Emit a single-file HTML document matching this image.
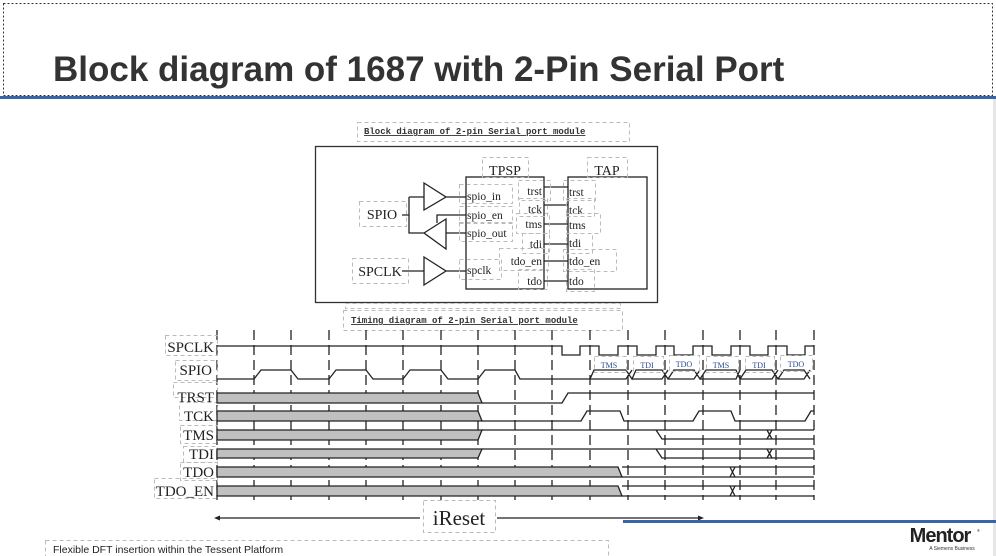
<!DOCTYPE html>
<html><head><meta charset="utf-8"><style>
html,body{margin:0;padding:0;background:#fff;}
body{width:996px;height:556px;overflow:hidden;position:relative;}
svg{position:absolute;left:0;top:0;}
.t{font-family:"Liberation Serif",serif;fill:#222;}
.m{font-family:"Liberation Mono",monospace;font-weight:bold;font-size:9px;fill:#333;text-decoration:underline;}
.d{fill:none;stroke:#bbb;stroke-dasharray:4,3;stroke-width:1;}
.l{fill:none;stroke:#222;stroke-width:1.3;}
</style></head><body>
<svg width="996" height="556" viewBox="0 0 996 556">
<rect x="3.5" y="3.5" width="989" height="92" fill="none" stroke="#333" stroke-dasharray="2,2"/>
<rect x="0" y="96" width="996" height="3" fill="#3566a8"/>
<rect x="993" y="99" width="3" height="457" fill="#e6e6e6"/>
<text x="53" y="81" font-family="Liberation Sans,sans-serif" font-weight="bold" font-size="35" fill="#333">Block diagram of 1687 with 2-Pin Serial Port</text>

<!-- block diagram -->
<rect class="d" x="357.5" y="122.5" width="272" height="19"/>
<text class="m" x="364" y="134">Block diagram of 2-pin Serial port module</text>
<rect x="315.5" y="146.5" width="342" height="156" fill="none" stroke="#333" stroke-width="1.3"/>
<rect class="d" x="345.5" y="303.5" width="275" height="5"/>
<rect x="466" y="177" width="78" height="112" fill="none" stroke="#222" stroke-width="1.3"/>
<rect x="568" y="177" width="79" height="112" fill="none" stroke="#222" stroke-width="1.3"/>
<rect class="d" x="482.5" y="157.5" width="46" height="20"/>
<rect class="d" x="587.5" y="157.5" width="40" height="20"/>
<text class="t" x="505" y="175" font-size="14" text-anchor="middle">TPSP</text>
<text class="t" x="607" y="175" font-size="14" text-anchor="middle">TAP</text>
<path class="l" d="M424,183 L446,197 L424,210 Z M446,197 H466 M402,215 H409 M409,197 V233 H424 M409,197 H424 M424,233 L446,219 L446,249 Z M446,233 H466 M437,223 V215 H466 M402,271 H424 M424,257 L446,271 L424,285 Z M446,271 H466"/>
<path class="l" d="M544,187 H568 M544,205 H568 M544,224 H568 M544,244 H568 M544,261 H568 M544,281 H568"/>
<rect class="d" x="359.5" y="201.5" width="47" height="25"/>
<rect class="d" x="352.5" y="258.5" width="56" height="25"/>
<text class="t" x="382" y="219" font-size="14" text-anchor="middle">SPIO</text>
<text class="t" x="380" y="276" font-size="14" text-anchor="middle">SPCLK</text>
<g class="t" font-size="11.5">
<text x="467" y="200">spio_in</text><text x="467" y="219">spio_en</text><text x="467" y="237">spio_out</text><text x="467" y="274">spclk</text>
<g text-anchor="end"><text x="542" y="195">trst</text><text x="542" y="213">tck</text><text x="542" y="228">tms</text><text x="542" y="248">tdi</text><text x="542" y="265">tdo_en</text><text x="542" y="285">tdo</text></g>
<text x="569" y="196">trst</text><text x="569" y="214">tck</text><text x="569" y="229">tms</text><text x="569" y="247">tdi</text><text x="569" y="265">tdo_en</text><text x="569" y="285">tdo</text>
</g>
<g class="d">
<rect x="459.5" y="184.5" width="53" height="19"/><rect x="459.5" y="206.5" width="53" height="17"/><rect x="459.5" y="222.5" width="53" height="19"/><rect x="459.5" y="259.5" width="42" height="20"/>
<rect x="518.5" y="180.5" width="32" height="20"/><rect x="519.5" y="198.5" width="28" height="18"/><rect x="516.5" y="213.5" width="33" height="20"/><rect x="522.5" y="233.5" width="27" height="20"/><rect x="499.5" y="248.5" width="49" height="22"/><rect x="518.5" y="269.5" width="29" height="20"/>
<rect x="563.5" y="180.5" width="32" height="20"/><rect x="566.5" y="198.5" width="28" height="18"/><rect x="566.5" y="213.5" width="34" height="20"/><rect x="566.5" y="233.5" width="26" height="20"/><rect x="563.5" y="249.5" width="53" height="22"/><rect x="566.5" y="269.5" width="28" height="22"/>
</g>

<!-- timing -->
<rect class="d" x="343.5" y="310.5" width="279" height="20"/>
<text class="m" x="351" y="323">Timing diagram of 2-pin Serial port module</text>
<g stroke="#222" stroke-width="1.3" stroke-dasharray="10,5">
<path d="M217,330V500M254,330V500M291,330V500M329,330V500M366,330V500M403,330V500M441,330V500M478,330V500M515,330V500M552,330V500M590,330V500M628,330V500M665,330V500M703,330V500M740,330V500M776,330V500M814,330V500"/>
</g>
<g class="d"><rect x="165.5" y="335.5" width="52" height="20"/><rect x="175.5" y="360.5" width="42" height="20"/><rect x="173.5" y="382.5" width="44" height="15"/><rect x="179.5" y="402.5" width="38" height="18"/><rect x="180.5" y="425.5" width="37" height="18"/><rect x="183.5" y="446.5" width="34" height="16"/><rect x="180.5" y="462.5" width="37" height="18"/><rect x="154.5" y="478.5" width="63" height="20"/></g>
<g class="t" font-size="15" text-anchor="end">
<text x="214" y="352">SPCLK</text><text x="212" y="375">SPIO</text><text x="214" y="402">TRST</text><text x="214" y="421">TCK</text><text x="214" y="440">TMS</text><text x="214" y="459">TDI</text><text x="214" y="477">TDO</text><text x="214" y="496">TDO_EN</text>
</g>
<g fill="#c0c0c0" stroke="#222" stroke-width="1.3">
<path d="M217,393 H478 L482,403 H217 Z"/>
<path d="M217,411 H478 L482,421 H217 Z"/>
<path d="M217,430 H482 L478,440 H217 Z"/>
<path d="M217,449 H482 L478,458 H217 Z"/>
<path d="M217,467 H618 L622,477 H217 Z"/>
<path d="M217,486 H618 L622,496 H217 Z"/>
</g>
<g class="l">
<path d="M217,346 H562 V355 H580 V346 H599 V355 H618 V346 H637 V355 H656 V346 H674 V355 H693 V346 H712 V355 H731 V346 H750 V355 H768 V346 H787 V355 H805 V346 H814"/>
<path d="M217,379 H254 L261,370 H291 L298,379 H329 L336,370 H366 L373,379 H403 L410,370 H441 L448,379 H478 L485,370 H515 L520,379 H590"/>
<path d="M590,379 L594,370 H626 L632,379 L636,370 H662 L668,379 L674,370 H694 L700,379 L706,370 H736 L740,379 L746,370 H772 L778,379 L784,370 H804 L810,379 M590,379 H626 L632,370 M632,379 L636,379 H662 L668,370 M668,379 L674,379 H694 L700,370 M700,379 L706,379 H736 L740,370 M740,379 L746,379 H772 L778,370 M778,379 L784,379 H804 L810,370"/>
<path d="M482,403 H562 L568,393 H814"/>
<path d="M482,421 H581 L587,411 H620 L624,421 H693 L699,411 H731 L735,421 H805 L811,411 H814"/>
<path d="M482,430 H814 M656,430 L662,439 H814"/>
<path d="M482,449 H814 M656,449 L662,458 H814"/>
<path d="M622,467 H814 M622,477 H814 M730,467 L735,477 M735,467 L730,477"/>
<path d="M622,486 H814 M622,496 H814 M730,486 L735,496 M735,486 L730,496"/>
<path d="M767,430 L772,439 M772,430 L767,439 M767,449 L772,458 M772,449 L767,458"/>
</g>
<g class="d"><rect x="594.5" y="356.5" width="32" height="16"/><rect x="633.5" y="356.5" width="30" height="16"/><rect x="669.5" y="355.5" width="30" height="16"/><rect x="706.5" y="356.5" width="32" height="16"/><rect x="745.5" y="356.5" width="29" height="16"/><rect x="780.5" y="355.5" width="32" height="16"/></g>
<g font-family="Liberation Serif,serif" font-size="8" fill="#2a4a8a" text-anchor="middle">
<text x="609" y="368">TMS</text><text x="647" y="368">TDI</text><text x="684" y="367">TDO</text><text x="721" y="368">TMS</text><text x="759" y="368">TDI</text><text x="796" y="367">TDO</text>
</g>
<rect class="d" x="423.5" y="500.5" width="72" height="32"/>
<text class="t" x="459" y="525" font-size="21" text-anchor="middle">iReset</text>
<path d="M218,518 H420 M497,518 H700" stroke="#222" stroke-width="1.3"/>
<path d="M214,518 L220,515.5 L220,520.5 Z M704,518 L698,515.5 L698,520.5 Z" fill="#222"/>
<rect x="623" y="520" width="373" height="3" fill="#3566a8"/>
<text x="940" y="542" font-family="Liberation Sans,sans-serif" font-weight="bold" font-size="20" fill="#222" text-anchor="middle" letter-spacing="-1">Mentor</text>
<text x="977" y="532" font-family="Liberation Sans,sans-serif" font-size="4" fill="#222">®</text>
<text x="952" y="550" font-family="Liberation Sans,sans-serif" font-size="5" fill="#333" text-anchor="middle">A Siemens Business</text>
<rect class="d" x="45.5" y="540.5" width="563" height="20"/>
<text x="53" y="553" font-family="Liberation Sans,sans-serif" font-size="10.5" fill="#222">Flexible DFT insertion within the Tessent Platform</text>
</svg>
</body></html>
